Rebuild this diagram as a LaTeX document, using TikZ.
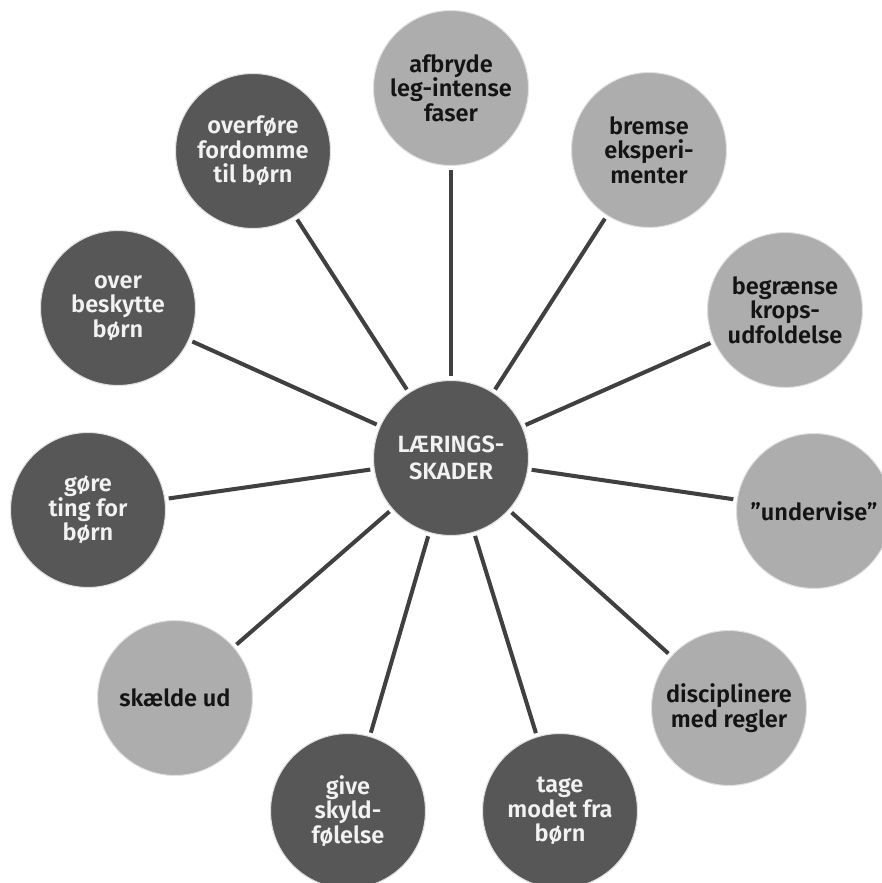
\documentclass[tikz,border=0pt]{standalone}
\usepackage{fontspec}
\setmainfont{Fira Sans}[BoldFont={Fira Sans SemiBold}]
\definecolor{darkbub}{HTML}{575757}
\definecolor{lightbub}{HTML}{ADADAD}
\definecolor{spokegray}{HTML}{404040}
\begin{document}
\begin{tikzpicture}[x=0.02cm, y=-0.02cm,
  every node/.style={circle, minimum size=3.1cm, inner sep=0pt, align=center,
    draw=white!88!black, line width=0.6pt,
    font=\fontsize{13.4}{14}\selectfont\bfseries},
  darkbub/.style={fill=darkbub, text=white!95!black},
  lightbub/.style={fill=lightbub, text=black!92},
  spoke/.style={draw=spokegray, line width=2.3pt, shorten <=2pt, shorten >=2pt}]
\clip (0,0) rectangle (882,883);
\node[darkbub, font=\fontsize{13.4}{15.6}\selectfont\bfseries] (skader) at (451,458) {LÆRINGS-\\SKADER};
\node[lightbub] (afbryde) at (451,88) {afbryde\\leg-intense\\faser};
\node[lightbub] (bremse) at (649,150) {bremse\\eksperi-\\menter};
\node[lightbub] (begraense) at (785,310) {begrænse\\krops-\\udfoldelse};
\node[lightbub] (undervise) at (814,511) {”undervise”};
\node[lightbub] (discipl) at (729,708) {disciplinere\\med regler};
\node[darkbub] (tage) at (560,811) {tage\\modet fra\\børn};
\node[darkbub] (give) at (348,811) {give\\skyld-\\følelse};
\node[lightbub] (skaelde) at (175,698) {skælde ud};
\node[darkbub] (goere) at (88,510) {gøre\\ting for\\børn};
\node[darkbub] (beskytte) at (118,308) {over\\beskytte\\børn};
\node[darkbub] (overfoere) at (253,151) {overføre\\fordomme\\til børn};
\draw[spoke] (skader) -- (afbryde);
\draw[spoke] (skader) -- (bremse);
\draw[spoke] (skader) -- (begraense);
\draw[spoke] (skader) -- (undervise);
\draw[spoke] (skader) -- (discipl);
\draw[spoke] (skader) -- (tage);
\draw[spoke] (skader) -- (give);
\draw[spoke] (skader) -- (skaelde);
\draw[spoke] (skader) -- (goere);
\draw[spoke] (skader) -- (beskytte);
\draw[spoke] (skader) -- (overfoere);
\end{tikzpicture}
\end{document}
